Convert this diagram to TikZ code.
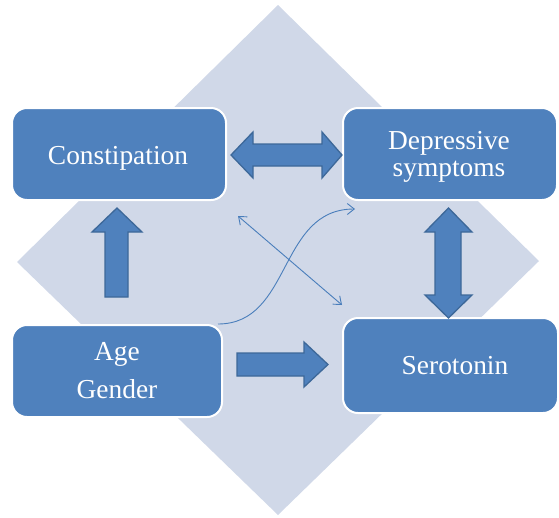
\documentclass[tikz,border=0pt]{standalone}
\usepackage{fontspec}
\newfontfamily\boxfont{Liberation Serif}
\usetikzlibrary{arrows.meta}
\definecolor{boxblue}{HTML}{4F81BD}
\definecolor{diamondbg}{HTML}{D0D8E8}
\definecolor{arrowedge}{HTML}{3D6899}
\definecolor{thinblue}{HTML}{4A7EBB}
\tikzset{
  box/.style={draw=white, line width=2pt, fill=boxblue, rounded corners=15pt, inner sep=0pt},
  boxtext/.style={text=white, align=center, inner sep=0pt,
    font=\boxfont\fontsize{27.4}{27.4}\selectfont},
  fatarrow/.style={fill=boxblue, draw=arrowedge, line width=1.3pt, line join=miter},
  thinarrow/.style={draw=thinblue, line width=0.9pt,
    {Straight Barb[length=7pt,width=11pt]}-{Straight Barb[length=7pt,width=11pt]}},
  thinarrowone/.style={draw=thinblue, line width=0.9pt,
    -{Straight Barb[length=7pt,width=11pt]}}
}
\begin{document}
\begin{tikzpicture}[x=1pt,y=-1pt]
\useasboundingbox (0,0) rectangle (559,517);
% background diamond
\fill[diamondbg] (278,5) -- (539,261) -- (278,515) -- (17,262) -- cycle;
% boxes
\node[box, minimum width=214pt, minimum height=92pt] (con) at (119,154) {};
\node[box, minimum width=214pt, minimum height=92pt] (dep) at (450,154) {};
\node[box, minimum width=210pt, minimum height=92pt] (age) at (117,371) {};
\node[box, minimum width=215pt, minimum height=95pt] (ser) at (450.5,365.5) {};
% texts
\node[boxtext, anchor=base] (tcon) at (118,164) {Constipation};
\node[boxtext, anchor=base] (tdep1) at (449,149) {Depressive};
\node[boxtext, anchor=base] (tdep2) at (449,176.5) {symptoms};
\node[boxtext, anchor=base] (tage1) at (117,360) {Age};
\node[boxtext, anchor=base] (tage2) at (117,398) {Gender};
\node[boxtext, anchor=base] (tser) at (455,374) {Serotonin};
% fat arrows
\draw[fatarrow] (231,155) -- (253,132) -- (253,144) -- (322,144) -- (322,132) -- (342,155)
  -- (322,178) -- (322,166) -- (253,166) -- (253,178) -- cycle;
\draw[fatarrow] (117,208) -- (142,232) -- (128,232) -- (128,297) -- (105,297) -- (105,232)
  -- (92,232) -- cycle;
\draw[fatarrow] (237,353) -- (304,353) -- (304,342) -- (328,364.5) -- (304,387) -- (304,376)
  -- (237,376) -- cycle;
\draw[fatarrow] (448.5,208) -- (472,232) -- (461,232) -- (461,295) -- (472,295) -- (448.5,318)
  -- (425,295) -- (435,295) -- (435,232) -- (425,232) -- cycle;
% thin arrows
\coordinate (a1) at (238,216);
\coordinate (a2) at (342,305);
\coordinate (c1) at (218,324);
\coordinate (c2) at (355,209);
\draw[thinarrow] (a1) -- (a2);
\draw[thinarrowone] (c1) .. controls (292,324) and (278,209) .. (c2);
\end{tikzpicture}
\end{document}
